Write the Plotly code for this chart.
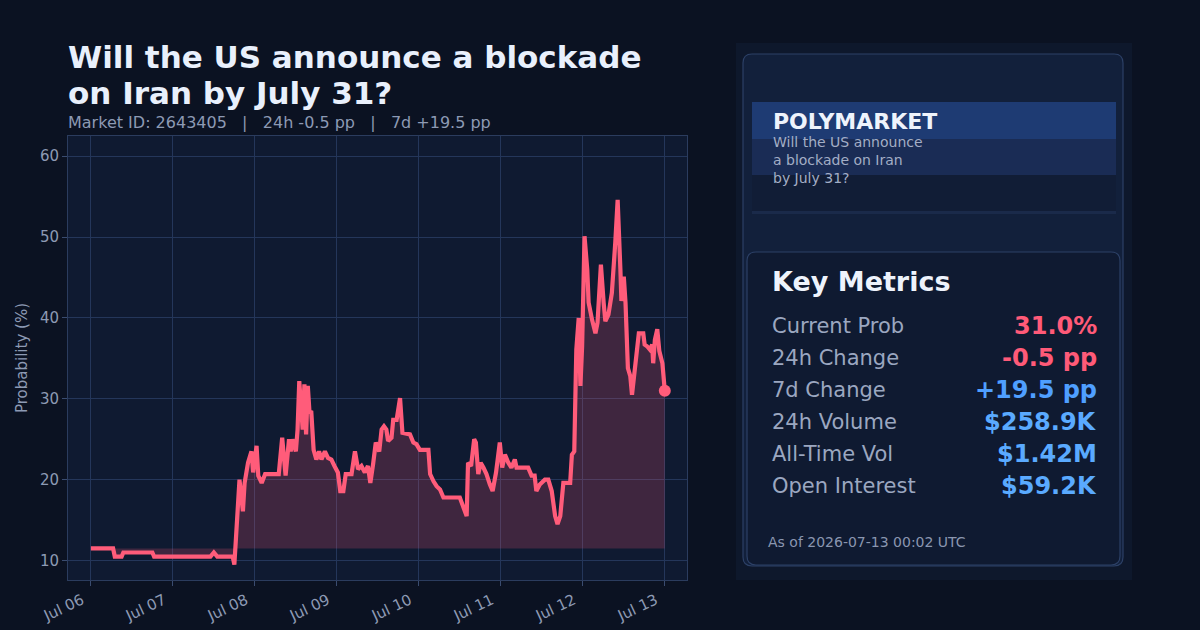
import plotly.graph_objects as go
import pandas as pd

# ---------------- data ----------------
start = "2026-07-06 00:00"
hours = [0, 6.5, 7, 9, 9.5, 18, 18.5, 35, 36, 37, 41.5, 42, 43.5, 44.5, 45, 46, 47, 47.5, 48.5, 49, 50,
         51, 55, 56, 57, 58, 58.5, 59, 60, 60.5, 61, 62, 62.5, 63, 63.5, 64, 64.5, 65.2, 66, 66.8, 67.5,
         68.5, 69.4, 70.4, 71.3, 72.3, 73, 73.9, 74.6, 76.3, 77.3, 78.2, 79.2, 80.2, 81.1, 81.8, 82.6,
         83.4, 84.4, 85.1, 85.8, 86.5, 87, 88, 88.5, 89.5, 90.5, 91, 91.2, 93.4, 94.4, 95.3, 96.3, 98.8,
         99.3, 100.3, 101.2, 102.2, 103.2, 108, 109, 110, 110.4, 111.3, 112.2, 112.7, 113.4, 114.1,
         114.9, 115.8, 116.8, 117.6, 118.6, 119.7, 120.4, 121.2, 122.2, 123.1, 124.1, 124.6, 128, 129,
         129.9, 130.4, 131.4, 132.9, 133.9, 134.9, 135.9, 136.6, 137.4, 138.3, 140.3, 140.8, 141.5,
         142.1, 142.8, 143.3, 143.8, 144.5, 145.3, 145.7, 146.7, 147.7, 148.3, 149.3, 150.1, 150.6,
         151.5, 152.5, 153.5, 154.2, 155, 155.3, 156, 156.5, 157.2, 157.9, 158.4, 159.4, 160.4, 161.7,
         162.1, 162.8, 163.6, 164.3, 164.6, 165.1, 165.8, 166.4, 167.3, 168]
prob = [11.5, 11.5, 10.5, 10.5, 11.0, 11.0, 10.5, 10.5, 11.0, 10.5, 10.5, 9.5, 20.0, 16.1, 19.6, 22.1,
        23.5, 20.9, 24.2, 20.5, 19.6, 20.7, 20.7, 25.2, 20.5, 25.0, 23.5, 25.0, 23.5, 26.2, 32.2, 26.2,
        31.8, 25.6, 31.6, 28.3, 28.5, 23.7, 22.5, 23.5, 22.5, 23.5, 22.7, 22.5, 21.7, 20.9, 18.6, 18.6,
        20.7, 20.7, 23.5, 21.3, 21.7, 20.9, 21.7, 19.6, 21.9, 24.6, 23.5, 26.2, 26.6, 26.2, 24.8, 25.2,
        27.4, 27.4, 30.1, 27.4, 25.8, 25.6, 24.6, 24.4, 23.7, 23.7, 20.7, 19.8, 19.2, 18.8, 17.8, 17.8,
        16.5, 15.5, 22.1, 21.7, 25.0, 24.6, 20.7, 22.1, 21.5, 20.7, 19.4, 18.6, 20.9, 24.6, 21.5, 23.1,
        22.1, 21.5, 22.5, 21.5, 21.5, 20.5, 20.5, 18.6, 19.4, 20.0, 20.0, 18.6, 15.5, 14.5, 15.5, 19.6,
        19.6, 23.1, 23.5, 36.1, 40.0, 31.6, 36.5, 50.1, 46.0, 41.9, 39.8, 38.1, 39.4, 46.6, 41.9, 39.6,
        40.4, 43.1, 49.3, 54.6, 46.0, 42.1, 45.1, 41.9, 33.8, 32.8, 30.5, 34.4, 38.1, 38.1, 36.7, 36.5,
        36.1, 36.7, 34.4, 37.3, 38.6, 35.9, 34.4, 31.0]
baseline = 11.5
y_ticks = [10, 20, 30, 40, 50, 60]

title_lines = ["Will the US announce a blockade", "on Iran by July 31?"]
subtitle_text = "Market ID: 2643405   |   24h -0.5 pp   |   7d +19.5 pp"
metric_labels = ["Current Prob", "24h Change", "7d Change", "24h Volume", "All-Time Vol", "Open Interest"]
metric_values = ["31.0%", "-0.5 pp", "+19.5 pp", "$258.9K", "$1.42M", "$59.2K"]
metric_colors = ["#ff5a78", "#ff5a78", "#4f9fff", "#5aaaff", "#5aaaff", "#5aaaff"]
asof_text = "As of 2026-07-13 00:02 UTC"

# ---------------- styling ----------------
W, H = 1200, 630
BG = "#0b1222"
PLOT_BG = "#0f1a31"
GRID = "#24365a"
TXT = "#8d9ab4"
LINE = "#ff5c7a"

t0 = pd.Timestamp(start)
x = [t0 + pd.Timedelta(hours=h) for h in hours]

def px(v):
    return v / W

def py(v):
    return 1 - v / H

fig = go.Figure()
fig.add_trace(go.Scatter(x=[x[0], x[-1]], y=[baseline, baseline], mode="lines",
                         line=dict(width=0, color="rgba(0,0,0,0)"), hoverinfo="skip", showlegend=False))
fig.add_trace(go.Scatter(x=x, y=prob, mode="lines", fill="tonexty",
                         fillcolor="rgba(255,92,122,0.20)",
                         line=dict(color=LINE, width=4.2), showlegend=False))
fig.add_trace(go.Scatter(x=[x[-1]], y=[prob[-1]], mode="markers",
                         marker=dict(color=LINE, size=12), showlegend=False))

x_lo = t0 - pd.Timedelta(hours=6.7)
x_hi = t0 + pd.Timedelta(hours=168 + 6.5)

fig.update_layout(
    width=W, height=H,
    paper_bgcolor=BG, plot_bgcolor=PLOT_BG,
    margin=dict(l=0, r=0, t=0, b=0, autoexpand=False),
    showlegend=False,
    font=dict(family="DejaVu Sans", color=TXT),
    xaxis=dict(domain=[px(68), px(687)], range=[x_lo, x_hi], type="date",
               tickformat="%b %d", dtick=86400000, tick0=start, tickangle=-25,
               ticklabelshift=-9,
               showgrid=True, gridcolor=GRID, gridwidth=1,
               showline=True, linecolor="#2b3c5e", mirror=True,
               ticks="outside", ticklen=5, tickcolor="#3a4c70",
               tickfont=dict(size=15, color=TXT), zeroline=False, automargin=False),
    yaxis=dict(domain=[py(580), py(136)], range=[7.6, 62.5],
               tickvals=y_ticks, showgrid=True, gridcolor=GRID, gridwidth=1,
               showline=True, linecolor="#2b3c5e", mirror=True,
               ticks="outside", ticklen=5, tickcolor="#3a4c70",
               tickfont=dict(size=15, color=TXT), zeroline=False, automargin=False,
               title=dict(text="Probability (%)", font=dict(size=15, color=TXT), standoff=8)),
)

shapes = []

def rrect(x0, y0, x1, y1, r, fill, line=None, lw=1):
    rx, ry = r / W, r / H
    X0, X1 = px(x0), px(x1)
    Y0, Y1 = py(y0), py(y1)
    path = (f"M {X0+rx},{Y0} L {X1-rx},{Y0} Q {X1},{Y0} {X1},{Y0-ry} "
            f"L {X1},{Y1+ry} Q {X1},{Y1} {X1-rx},{Y1} L {X0+rx},{Y1} "
            f"Q {X0},{Y1} {X0},{Y1+ry} L {X0},{Y0-ry} Q {X0},{Y0} {X0+rx},{Y0} Z")
    return dict(type="path", path=path, xref="paper", yref="paper", fillcolor=fill,
                line=dict(color=line or "rgba(0,0,0,0)", width=lw if line else 0), layer="below")

def rect(x0, y0, x1, y1, fill):
    return dict(type="rect", xref="paper", yref="paper", x0=px(x0), x1=px(x1), y0=py(y1), y1=py(y0),
                fillcolor=fill, line=dict(width=0), layer="below")

shapes.append(rect(736, 43, 1132, 580, "#0e182c"))
shapes.append(rrect(743, 54, 1123, 566, 9, "#12203b", "#2c4066", 1.2))
shapes.append(rect(752, 102, 1116, 139, "#1e3b73"))
shapes.append(rect(752, 139, 1116, 175, "#1a2c55"))
shapes.append(rect(752, 175, 1116, 211, "#111d36"))
shapes.append(rect(752, 211, 1116, 214, "#1a2a4a"))
shapes.append(rrect(747, 252, 1120, 565, 9, "#0f1a31", "#2c4066", 1.2))
fig.update_layout(shapes=shapes)

def text(t, xp, yp, size, color, anchor="left", align="left"):
    return dict(text=t, x=px(xp), y=py(yp), xref="paper", yref="paper", xanchor=anchor,
                yanchor="middle", align=align, showarrow=False,
                font=dict(size=size, color=color, family="DejaVu Sans"))

ann = []
ann.append(text(f"<b>{title_lines[0]}</b>", 66, 57, 31, "#e9f0fc"))
ann.append(text(f"<b>{title_lines[1]}</b>", 66, 93, 31, "#e9f0fc"))
ann.append(text(subtitle_text, 66, 123, 16, TXT))
ann.append(text("<b>POLYMARKET</b>", 771, 122, 22, "#eef3fc"))
ann.append(text("Will the US announce<br>a blockade on Iran<br>by July 31?", 771, 160, 14, "#a3aec6"))
ann.append(text("<b>Key Metrics</b>", 770, 281, 27, "#eef3fc"))
row_y = [326, 358, 390, 422, 454, 486]
for lab, val, col, ry in zip(metric_labels, metric_values, metric_colors, row_y):
    ann.append(text(lab, 770, ry, 21, "#9ba7c0"))
    ann.append(text(f"<b>{val}</b>", 1099, ry, 24, col, anchor="right"))
ann.append(text(asof_text, 766, 542, 14, "#8a96b0"))
fig.update_layout(annotations=ann)

fig.write_html("out.html")
